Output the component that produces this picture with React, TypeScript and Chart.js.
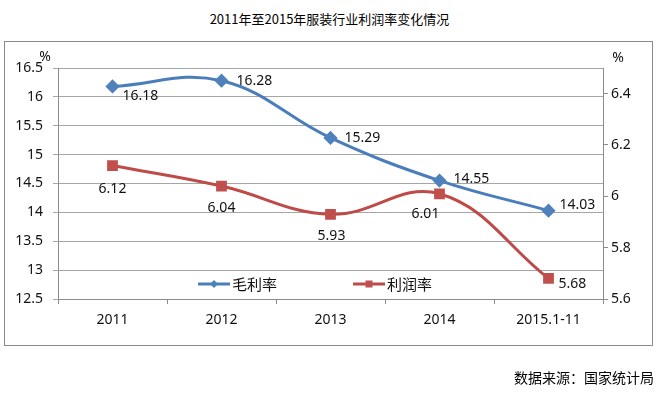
import React, { useEffect, useRef } from "react";
import { Chart, registerables } from "chart.js";

Chart.register(...registerables);

// ---- data ----
const categories = ["2011", "2012", "2013", "2014", "2015.1-11"];
const grossMargin = [16.18, 16.28, 15.29, 14.55, 14.03]; // 毛利率 (left axis)
const profitMargin = [6.12, 6.04, 5.93, 6.01, 5.68]; // 利润率 (right axis)
const seriesNames = ["毛利率", "利润率"];
const leftAxisRange = [12.5, 16.5];
const leftAxisStep = 0.5;
const rightAxisRange = [5.6, 6.5];
const rightAxisStep = 0.2;
const titleText = "2011年至2015年服装行业利润率变化情况";
const sourceText = "数据来源：国家统计局";
const unitText = "%";

const BLUE_LINE = "#4a7ebb";
const BLUE_PT = "#4f81bd";
const RED_LINE = "#be4b48";
const RED_PT = "#c0504d";
const LATIN = '"Noto Sans", "DejaVu Sans", sans-serif';
const CJK = '"Noto Sans CJK SC", "Noto Sans", sans-serif';

const fmt = (v: number) => String(Number(v.toFixed(2)));

// label placement per dataset per point: [align, dx, dy]
const labelPlacement: Array<Array<[CanvasTextAlign, number, number]>> = [
  [
    ["left", 10, 10],
    ["left", 15, 0],
    ["left", 14, 0],
    ["left", 14, -2],
    ["left", 11, -6],
  ],
  [
    ["center", 0, 23],
    ["center", 0, 22],
    ["center", 1, 22],
    ["center", -14, 20],
    ["left", 10, 6],
  ],
];

const extrasPlugin = {
  id: "extras",
  afterDatasetsDraw(chart: any) {
    const ctx = chart.ctx as CanvasRenderingContext2D;
    const area = chart.chartArea;
    ctx.save();
    // data labels
    ctx.font = `14px ${LATIN}`;
    ctx.fillStyle = "#111";
    ctx.textBaseline = "middle";
    chart.data.datasets.forEach((ds: any, di: number) => {
      const meta = chart.getDatasetMeta(di);
      meta.data.forEach((pt: any, i: number) => {
        const [align, dx, dy] = labelPlacement[di][i];
        ctx.textAlign = align;
        ctx.fillText(fmt(ds.data[i]), pt.x + dx, pt.y + dy);
      });
    });
    // unit labels
    ctx.textAlign = "center";
    ctx.fillText(unitText, area.left - 13, area.top - 11);
    ctx.fillText(unitText, area.right + 15, area.top - 10);

    // legend inside plot area
    const ly = area.bottom - 15;
    const items = [
      { name: seriesNames[0], x0: 198, x1: 230, line: BLUE_LINE, pt: BLUE_PT, shape: "diamond" },
      { name: seriesNames[1], x0: 353, x1: 385, line: RED_LINE, pt: RED_PT, shape: "square" },
    ];
    items.forEach((it) => {
      ctx.strokeStyle = it.line;
      ctx.lineWidth = 3;
      ctx.beginPath();
      ctx.moveTo(it.x0, ly);
      ctx.lineTo(it.x1, ly);
      ctx.stroke();
      const cx = (it.x0 + it.x1) / 2;
      ctx.fillStyle = it.pt;
      ctx.beginPath();
      if (it.shape === "diamond") {
        const r = 4;
        ctx.moveTo(cx, ly - r);
        ctx.lineTo(cx + r, ly);
        ctx.lineTo(cx, ly + r);
        ctx.lineTo(cx - r, ly);
        ctx.closePath();
      } else {
        ctx.rect(cx - 3.5, ly - 3.5, 7, 7);
      }
      ctx.fill();
      ctx.fillStyle = "#111";
      ctx.font = `15px ${CJK}`;
      ctx.textAlign = "left";
      ctx.textBaseline = "middle";
      ctx.fillText(it.name, it.x1 + 2, ly);
    });
    ctx.restore();
  },
};

export default function App() {
  const ref = useRef<HTMLCanvasElement | null>(null);

  useEffect(() => {
    if (!ref.current) return;
    const chart = new Chart(ref.current, {
      type: "line",
      data: {
        labels: categories,
        datasets: [
          {
            label: seriesNames[0],
            data: grossMargin,
            yAxisID: "y",
            borderColor: BLUE_LINE,
            backgroundColor: BLUE_PT,
            pointBackgroundColor: BLUE_PT,
            pointBorderColor: BLUE_PT,
            pointStyle: "rectRot",
            pointRadius: 5,
            borderWidth: 3,
            tension: 0.4,
            fill: false,
          },
          {
            label: seriesNames[1],
            data: profitMargin,
            yAxisID: "y1",
            borderColor: RED_LINE,
            backgroundColor: RED_PT,
            pointBackgroundColor: RED_PT,
            pointBorderColor: RED_PT,
            pointStyle: "rect",
            pointRadius: 5.5,
            borderWidth: 3,
            tension: 0.4,
            fill: false,
          },
        ],
      },
      options: {
        responsive: false,
        animation: false,
        events: [],
        layout: { padding: { top: 68, left: 0, right: 0, bottom: 0 } },
        plugins: {
          legend: { display: false },
          title: { display: false },
          tooltip: { enabled: false },
        },
        scales: {
          x: {
            type: "category",
            offset: true,
            grid: {
              offset: true,
              drawOnChartArea: false,
              drawTicks: true,
              tickLength: 5,
              color: "#8c8c8c",
            },
            border: { display: true, color: "#8c8c8c", width: 1 },
            ticks: {
              font: { family: LATIN, size: 14 },
              color: "#111",
              padding: 8,
              maxRotation: 0,
              autoSkip: false,
            },
            afterFit: (s: any) => {
              s.height = 94;
            },
          },
          y: {
            position: "left",
            min: leftAxisRange[0],
            max: leftAxisRange[1],
            grid: {
              drawOnChartArea: true,
              drawTicks: true,
              tickLength: 5,
              color: "#a6a6a6",
            },
            border: { display: true, color: "#8c8c8c", width: 1 },
            ticks: {
              stepSize: leftAxisStep,
              font: { family: LATIN, size: 14 },
              color: "#111",
              padding: 10,
              callback: (v: any) => fmt(Number(v)),
            },
            afterFit: (s: any) => {
              s.width = 58;
            },
          },
          y1: {
            position: "right",
            min: rightAxisRange[0],
            max: rightAxisRange[1],
            grid: {
              drawOnChartArea: false,
              drawTicks: true,
              tickLength: 5,
              color: "#8c8c8c",
            },
            border: { display: true, color: "#8c8c8c", width: 1 },
            ticks: {
              stepSize: rightAxisStep,
              includeBounds: false,
              font: { family: LATIN, size: 14 },
              color: "#111",
              padding: 3,
              callback: (v: any) => fmt(Number(v)),
            },
            afterFit: (s: any) => {
              s.width = 56;
            },
          },
        },
      },
      plugins: [extrasPlugin],
    });
    return () => chart.destroy();
  }, []);

  return (
    <div
      style={{
        position: "absolute",
        left: 0,
        top: 0,
        width: 659,
        height: 393,
        background: "#fff",
        overflow: "hidden",
      }}
    >
      <div
        style={{
          position: "absolute",
          left: 0,
          top: 11,
          width: 659,
          textAlign: "center",
          fontFamily: CJK,
          fontSize: 13,
          lineHeight: "16px",
          color: "#000",
        }}
      >
        {titleText}
      </div>
      <div
        style={{
          position: "absolute",
          left: 4,
          top: 41,
          width: 649,
          height: 305,
          boxSizing: "border-box",
          border: "1px solid #8a8a8a",
        }}
      />
      <canvas
        ref={ref}
        width={659}
        height={393}
        style={{ position: "absolute", left: 0, top: 0, width: 659, height: 393 }}
      />
      <div
        style={{
          position: "absolute",
          right: 5,
          top: 368,
          fontFamily: CJK,
          fontSize: 14,
          lineHeight: "18px",
          color: "#000",
          whiteSpace: "nowrap",
        }}
      >
        {sourceText}
      </div>
    </div>
  );
}
